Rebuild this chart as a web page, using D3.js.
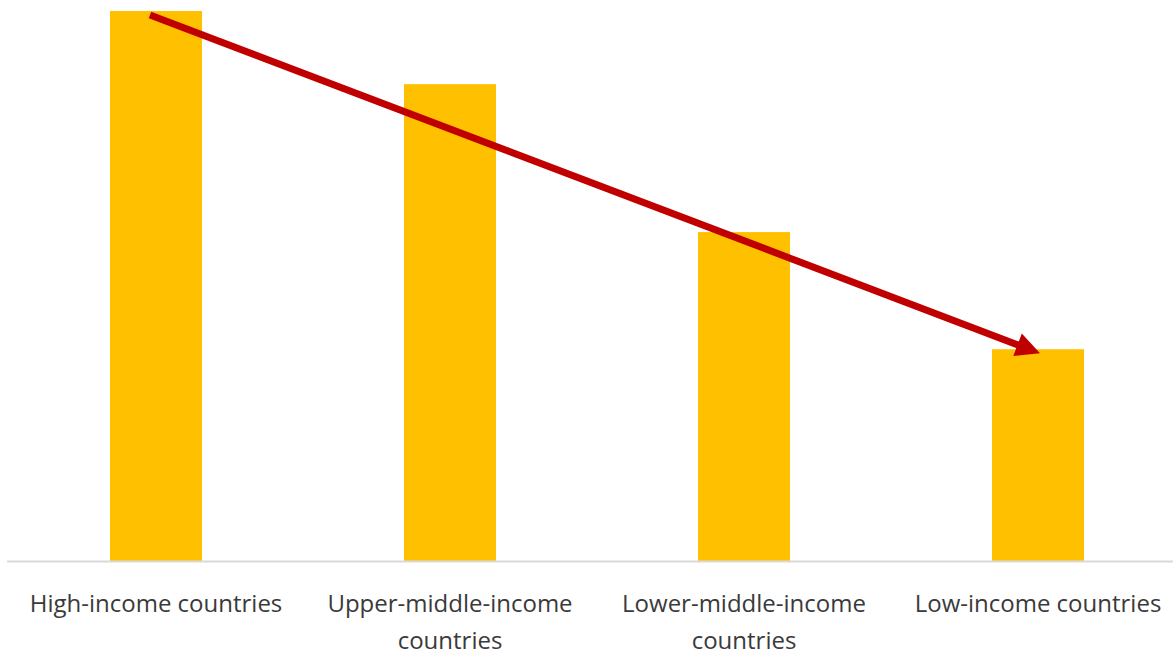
<!DOCTYPE html>
<meta charset="utf-8">
<title>Income groups</title>
<style>
body {
  margin: 0;
  background: #fff;
}
text {
  font-family: "Open Sans", sans-serif;
  font-size: 24px;
  fill: #3a3a3a;
}
</style>
<body>
<script src="https://cdn.jsdelivr.net/npm/d3@7/dist/d3.min.js"></script>
<script>

var categories = ["High-income countries", "Upper-middle-income countries", "Lower-middle-income countries", "Low-income countries"];
var labelLines = [["High-income countries"], ["Upper-middle-income", "countries"], ["Lower-middle-income", "countries"], ["Low-income countries"]];
var values = [100, 86.7, 59.8, 38.5];

var w = 1173,
    h = 655,
    base = 561,
    barW = 92;

var svg = d3.select("body").append("svg")
    .attr("width", w)
    .attr("height", h);

var x = d3.scalePoint()
    .domain(categories)
    .range([156, 1038]);

var y = d3.scaleLinear()
    .domain([0, 100])
    .range([base, 11]);

// bars
svg.selectAll("rect.bar")
    .data(values)
  .enter().append("rect")
    .attr("class", "bar")
    .attr("x", function(d, i) { return x(categories[i]) - barW / 2; })
    .attr("y", function(d) { return y(d); })
    .attr("width", barW)
    .attr("height", function(d) { return base - y(d); })
    .attr("fill", "#FFC000");

// baseline
svg.append("line")
    .attr("x1", 7)
    .attr("x2", w)
    .attr("y1", base + 0.5)
    .attr("y2", base + 0.5)
    .attr("stroke", "#d9d9d9")
    .attr("stroke-width", 2);

// labels
var lab = svg.selectAll("text.lab")
    .data(labelLines)
  .enter().append("text")
    .attr("class", "lab")
    .attr("text-anchor", "middle")
    .attr("transform", function(d, i) { return "translate(" + x(categories[i]) + "," + (base + 51) + ")"; });

lab.selectAll("tspan")
    .data(function(d) { return d; })
  .enter().append("tspan")
    .attr("x", 0)
    .attr("y", function(d, i) { return i * 37; })
    .text(function(d) { return d; });

// trend arrow
svg.append("defs").append("marker")
    .attr("id", "head")
    .attr("markerUnits", "userSpaceOnUse")
    .attr("viewBox", "0 0 10 10")
    .attr("refX", 10)
    .attr("refY", 5)
    .attr("markerWidth", 28)
    .attr("markerHeight", 24)
    .attr("orient", "auto")
  .append("path")
    .attr("d", "M0,0L10,5L0,10z")
    .attr("fill", "#C00000");

var x0 = x(categories[0]) - 6, y0 = y(values[0]) + 4;
var x1 = x(categories[3]) + 2, y1 = y(values[3]) + 4;
var ang = Math.atan2(y1 - y0, x1 - x0);

svg.append("line")
    .attr("x1", x0)
    .attr("y1", y0)
    .attr("x2", x1 - 20 * Math.cos(ang))
    .attr("y2", y1 - 20 * Math.sin(ang))
    .attr("stroke", "#C00000")
    .attr("stroke-width", 7);

svg.append("line")
    .attr("x1", x1 - 22 * Math.cos(ang))
    .attr("y1", y1 - 22 * Math.sin(ang))
    .attr("x2", x1)
    .attr("y2", y1)
    .attr("stroke", "none")
    .attr("marker-end", "url(#head)");

</script>
